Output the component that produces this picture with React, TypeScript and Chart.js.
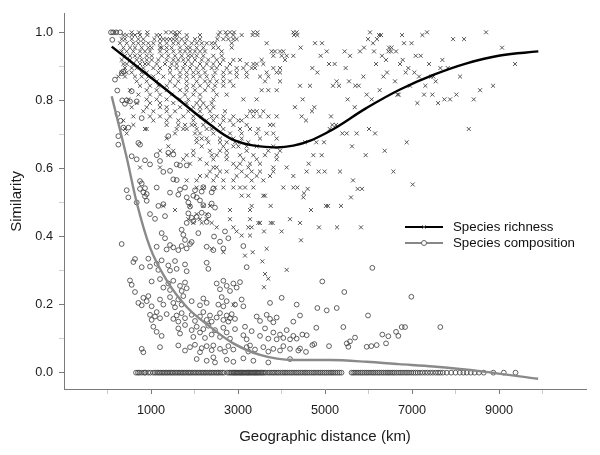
import React, { useEffect, useRef } from 'react';
import { Chart, registerables } from 'chart.js';

Chart.register(...registerables);

// ---------- axis ticks ----------
const xTickValues = [0, 1000, 2000, 3000, 4000, 5000, 6000, 7000, 8000, 9000, 10000];
const xTickLabels = ['1000', '3000', '5000', '7000', '9000'];
const yTickValues = [0, 0.1, 0.2, 0.3, 0.4, 0.5, 0.6, 0.7, 0.8, 0.9, 1.0];
const yTickLabels = ['0.0', '0.2', '0.4', '0.6', '0.8', '1.0'];

const xTitle = 'Geographic distance (km)';
const yTitle = 'Similarity';
const seriesNames = ['Species richness', 'Species composition'];

// ---------- species richness observations: [similarity, distances (km)] ----------
const richnessRows: [number, number[]][] = [
  [1.0, [172, 556, 724, 916, 1345, 1460, 1552, 1651, 2586, 2716, 2816, 2908, 3353, 3445, 4272, 4349, 6035, 7346, 8703]],
  [0.992, [364, 441, 556, 632, 747, 916, 1130, 1207, 1552, 1605, 1820, 2126, 2548, 2740, 2893, 3084, 3337, 3445, 4287, 4364, 6242, 6288, 6771, 7238]],
  [0.98, [326, 402, 556, 709, 824, 1077, 1207, 1284, 1360, 1437, 1513, 1590, 1705, 1820, 2011, 2126, 2525, 2663, 2778, 2893, 2969, 5989, 6196, 7944, 8197]],
  [0.968, [287, 441, 594, 709, 824, 939, 1054, 1207, 1360, 1513, 1628, 1782, 1935, 2050, 2165, 2280, 2395, 2471, 2855, 3659, 4770, 4931, 6104, 6817, 6990]],
  [0.955, [364, 517, 632, 786, 939, 1015, 1207, 1245, 1360, 1475, 1667, 1820, 1897, 2050, 2203, 2433, 2548, 2855, 4440, 5897, 6472, 6530, 9070]],
  [0.944, [326, 441, 594, 747, 862, 977, 1207, 1360, 1513, 1667, 1782, 1897, 2011, 2126, 2241, 2625, 3774, 3851, 3966, 4042, 5040, 5453, 5805, 6127, 6457, 6518, 6633]],
  [0.931, [402, 517, 632, 747, 901, 1015, 1245, 1398, 1552, 1705, 1858, 1935, 2050, 2203, 2433, 2625, 3812, 4004, 4119, 4272, 4900, 5575, 6311, 7085, 7200]],
  [0.919, [326, 517, 671, 786, 901, 1015, 1169, 1360, 1513, 1628, 1743, 1858, 2011, 2165, 2318, 2510, 2663, 2893, 3046, 3544, 4081, 6403, 6786, 7698]],
  [0.907, [364, 441, 594, 747, 862, 939, 1130, 1322, 1475, 1590, 1782, 1935, 2126, 2280, 2433, 2586, 2816, 3199, 3353, 3429, 3582, 5092, 5222, 6173, 6725, 7392, 9369]],
  [0.895, [402, 556, 671, 824, 1054, 1207, 1437, 1590, 1743, 1897, 2050, 2203, 2395, 2510, 2740, 2969, 3123, 3314, 3391, 3812, 3966, 4708, 5475, 6916, 7652, 7822]],
  [0.882, [326, 441, 556, 786, 901, 1169, 1437, 1667, 1820, 1973, 2088, 2241, 2471, 2663, 2816, 2969, 3199, 3659, 3889, 3966, 4824, 6426, 6855, 7054]],
  [0.87, [249, 402, 632, 786, 939, 1054, 1284, 1513, 1667, 1820, 1973, 2126, 2280, 2433, 2663, 2969, 3199, 3506, 3697, 5882, 6342, 7162, 7438, 7491, 8105]],
  [0.856, [671, 901, 1130, 1437, 1628, 1820, 2050, 2241, 2356, 2510, 2663, 2816, 3621, 3966, 5268, 5552, 6610, 7545]],
  [0.843, [747, 977, 1169, 1360, 1552, 1820, 1973, 2126, 2318, 2471, 2663, 2893, 4426, 4655, 5184, 5322, 5697, 5774, 6955, 7307, 8864]],
  [0.83, [517, 901, 1130, 1360, 1667, 1820, 2011, 2241, 2433, 3544, 3697, 3889, 6257, 8565]],
  [0.817, [709, 977, 1207, 1475, 1782, 1973, 2126, 2510, 2740, 5959, 6664, 6695, 7277, 7468, 8020]],
  [0.803, [479, 901, 1130, 1360, 1667, 1858, 2126, 2433, 3123, 3429, 4487, 5521, 6073, 7744, 7875, 8420]],
  [0.792, [671, 977, 1207, 1513, 1820, 2050, 2203, 2395, 7123, 7599]],
  [0.78, [556, 901, 1207, 1360, 1667, 1973, 2126, 2280, 2433, 4310, 4755, 5683]],
  [0.768, [824, 1054, 1360, 1552, 1858, 2126, 2356, 2701, 3276, 3353, 3429, 3582, 4701]],
  [0.753, [594, 977, 1207, 1437, 1743, 1973, 2165, 2395, 2510, 2663, 2893, 3199, 3353, 3506, 3697, 3889, 4464, 5138]],
  [0.741, [364, 1054, 1360, 1628, 1973, 2280, 2433, 2663, 2816, 3008, 3084, 4563]],
  [0.728, [594, 1360, 1628, 1782, 1935, 2011, 2203, 2586, 2893, 3199, 3736, 3812, 5168, 5253]],
  [0.716, [402, 862, 901, 1590, 1743, 1820, 2050, 2280, 2395, 2663, 3046, 3276, 3468, 5109, 6012, 8305]],
  [0.703, [441, 1552, 2011, 2126, 2433, 2816, 3084, 3429, 3659, 3812, 5399, 5498, 5728, 6150]],
  [0.688, [1360, 2050, 2165, 2280, 2586, 2893, 3084, 3506, 3889]],
  [0.677, [2050, 2318, 2586, 2740, 2931, 3046, 3238, 4540, 4801, 4977, 6878]],
  [0.665, [1398, 2165, 2663, 2893, 3008, 3199, 3429, 3812, 5621]],
  [0.652, [1207, 1513, 1973, 2356, 2586, 2740, 3199, 3697, 3966, 6372]],
  [0.639, [1398, 1820, 1973, 2395, 2510, 2740, 3046, 3353, 3621, 3889, 4732, 4924, 5935]],
  [0.627, [1743, 2126, 2433, 2740, 3123, 3429, 3889]],
  [0.614, [1897, 2280, 2893, 3046, 3276, 3506, 4624]],
  [0.603, [747, 1207, 2433, 2510, 2969, 3238, 3812, 4119]],
  [0.591, [2356, 2586, 2740, 3084, 3314, 3506, 3812, 4578, 4854, 4992, 5345, 6572]],
  [0.578, [2126, 2280, 2510, 2969, 3199, 3429, 3736, 4272]],
  [0.565, [1820, 2050, 2433, 2663, 2893, 3314, 3582, 5644]],
  [0.553, [7016]],
  [0.544, [2050, 2203, 2471, 2663, 2893, 3046, 3161, 3353, 4042, 4272, 4364]],
  [0.54, [4601, 5751, 5851]],
  [0.527, [4517]],
  [0.52, [3084, 3238, 3582, 3621]],
  [0.515, [4502, 5598]],
  [0.49, [1284, 1897, 2203, 2356, 3314, 3751, 5023, 5069, 5368]],
  [0.478, [1552, 2816, 3276, 4678]],
  [0.466, [2050, 2280]],
  [0.451, [1858, 2126, 2280, 2816, 3276, 4196]],
  [0.44, [1973, 2165, 2395, 3468, 3506, 3751, 3797, 4426]],
  [0.427, [2510, 2893, 3238, 3314, 4862, 5276, 5828]],
  [0.415, [2969, 3598, 4004]],
  [0.403, [3084, 3276]],
  [0.389, [4449]],
  [0.364, [2395, 3659]],
  [0.354, [2663, 3337]],
  [0.344, [3161]],
  [0.327, [3560]],
  [0.302, [4119]],
  [0.29, [3621]],
  [0.276, [3697]],
  [0.251, [3598]],
  [0.2, [2893]],
];

// ---------- species composition observations [km, similarity] ----------
const compositionPoints: [number, number][] = [
  [80, 1], [130, 1], [200, 1], [290, 1], [110, 0.978], [172, 0.861], [225, 0.829], [326, 0.88], [364, 0.885],
  [556, 0.827], [340, 0.8], [400, 0.79], [441, 0.8], [517, 0.797], [671, 0.797], [230, 0.76], [300, 0.74],
  [364, 0.72], [479, 0.72], [249, 0.695], [249, 0.67], [709, 0.675], [748, 0.67], [786, 0.748], [1398, 0.695],
  [556, 0.636], [671, 0.627], [862, 0.624], [977, 0.612], [1131, 0.639], [1398, 0.646], [1513, 0.641],
  [1207, 0.622], [1283, 0.59], [1437, 0.593], [1591, 0.612], [1667, 0.609], [1821, 0.609], [747, 0.563],
  [786, 0.556], [441, 0.536], [479, 0.515], [862, 0.542], [901, 0.525], [1131, 0.544], [1437, 0.529],
  [1513, 0.568], [1591, 0.566], [1628, 0.523], [1782, 0.544], [1821, 0.515], [2012, 0.536], [2051, 0.515],
  [747, 0.54], [824, 0.53], [1667, 0.538], [2165, 0.532], [2203, 0.545], [2395, 0.53], [2433, 0.541],
  [862, 0.518], [1973, 0.52],
  [671, 0.5], [901, 0.505], [1169, 0.49], [1284, 0.495], [1858, 0.5], [1897, 0.488], [2126, 0.506],
  [2203, 0.492], [2395, 0.497], [2471, 0.485],
  [977, 0.466], [1092, 0.452], [1322, 0.46], [1820, 0.44], [1858, 0.468], [1935, 0.455], [1973, 0.445],
  [2050, 0.458], [2165, 0.47], [2280, 0.443], [2318, 0.462],
  [1245, 0.41], [1322, 0.395], [1705, 0.42], [1743, 0.405], [1782, 0.39], [1935, 0.384], [2088, 0.41],
  [2449, 0.4], [2586, 0.385], [2701, 0.415], [2778, 0.395],
  [326, 0.378], [1130, 0.37], [1360, 0.362], [1437, 0.375], [1513, 0.368], [1628, 0.36], [1705, 0.372],
  [1820, 0.365], [1897, 0.378], [2280, 0.37], [2433, 0.36], [2663, 0.365], [3123, 0.372],
  [594, 0.325], [632, 0.334], [786, 0.31], [939, 0.335], [977, 0.312], [1130, 0.32], [1169, 0.302],
  [1245, 0.33], [1398, 0.315], [1437, 0.3], [1552, 0.328], [1590, 0.305], [1782, 0.318], [1820, 0.298],
  [2280, 0.323], [2318, 0.305], [3199, 0.31],
  [517, 0.271], [556, 0.258], [632, 0.237], [1015, 0.268], [1207, 0.275], [1284, 0.25], [1398, 0.262],
  [1437, 0.243], [1513, 0.27], [1667, 0.255], [1705, 0.24], [1782, 0.265], [1820, 0.248], [2510, 0.262],
  [2586, 0.245], [2663, 0.27], [2740, 0.255], [2816, 0.24], [2893, 0.262], [2969, 0.25], [3046, 0.266],
  [709, 0.205], [786, 0.198], [824, 0.22], [901, 0.21], [939, 0.225], [1015, 0.195], [1207, 0.215],
  [1284, 0.2], [1437, 0.222], [1513, 0.205], [1552, 0.192], [1628, 0.215], [1705, 0.2], [1743, 0.225],
  [1935, 0.21], [2126, 0.198], [2203, 0.218], [2280, 0.205], [2548, 0.2], [2625, 0.222], [2663, 0.195],
  [2740, 0.21], [2931, 0.2], [3084, 0.215], [3123, 0.195], [3736, 0.205], [4004, 0.22], [4349, 0.2],
  [977, 0.17], [1015, 0.155], [1092, 0.165], [1130, 0.178], [1207, 0.16], [1360, 0.172], [1513, 0.158],
  [1590, 0.168], [1628, 0.15], [1705, 0.175], [1782, 0.16], [1935, 0.17], [2011, 0.152], [2126, 0.165],
  [2203, 0.178], [2280, 0.155], [2356, 0.168], [2395, 0.15], [2510, 0.162], [2586, 0.175], [2663, 0.155],
  [2740, 0.168], [2778, 0.15], [2816, 0.16], [2855, 0.172], [2931, 0.158], [3429, 0.165], [3506, 0.152],
  [3659, 0.17], [3736, 0.158], [3812, 0.148], [3889, 0.162], [4272, 0.15], [4425, 0.168],
  [1054, 0.135], [1130, 0.12], [1245, 0.108], [1628, 0.13], [1667, 0.115], [1782, 0.14], [1935, 0.125],
  [1973, 0.105], [2050, 0.135], [2126, 0.118], [2203, 0.128], [2241, 0.102], [2318, 0.138], [2395, 0.112],
  [2471, 0.125], [2586, 0.105], [2663, 0.132], [2740, 0.118], [2816, 0.1], [2931, 0.128], [3123, 0.11],
  [3161, 0.135], [3199, 0.098], [3314, 0.122], [3506, 0.108], [3621, 0.13], [3697, 0.1], [3812, 0.118],
  [3889, 0.098], [3966, 0.112], [4042, 0.102], [4119, 0.125], [4196, 0.098], [4272, 0.108], [4349, 0.1],
  [4579, 0.11],
  [786, 0.07], [824, 0.06], [1207, 0.075], [1628, 0.08], [1782, 0.065], [1897, 0.075], [2011, 0.082],
  [2126, 0.06], [2165, 0.072], [2280, 0.078], [2395, 0.066], [2433, 0.08], [2586, 0.07], [2701, 0.062],
  [2778, 0.078], [2893, 0.068], [3199, 0.075], [3238, 0.062], [3276, 0.08], [3391, 0.068], [3582, 0.075],
  [3697, 0.062], [3812, 0.07], [3966, 0.065], [4042, 0.078], [4196, 0.07], [4387, 0.065],
  [2050, 0.04], [2280, 0.035], [2433, 0.045], [2471, 0.03], [2740, 0.038], [2893, 0.032], [3123, 0.042],
  [3353, 0.035], [3697, 0.03], [4196, 0.04],
  [6088, 0.308], [4938, 0.268], [5444, 0.237], [6985, 0.223], [4824, 0.19], [5040, 0.183], [5270, 0.19],
  [5989, 0.168], [4479, 0.112], [4800, 0.132], [5421, 0.134], [6763, 0.134], [6840, 0.134], [7651, 0.134],
  [6318, 0.112], [6456, 0.107], [6633, 0.12], [6686, 0.108], [5690, 0.103], [5500, 0.086], [5575, 0.092],
  [5536, 0.076], [4709, 0.081], [4755, 0.084], [5092, 0.078], [5958, 0.076], [6065, 0.078], [6188, 0.081],
  [6403, 0.086], [4426, 0.071], [4563, 0.061],
];

// composition pairs with zero similarity (distances in km)
const compositionZeroKm: number[] = [
  655, 700, 735, 790, 845, 870, 935, 985, 1050, 1095, 1140, 1180, 1215, 1255, 1290, 1330, 1365, 1400, 1440,
  1475, 1510, 1550, 1585, 1625, 1660, 1700, 1735, 1770, 1810, 1850, 1885, 1920, 1960, 2000, 2035, 2075,
  2110, 2150, 2185, 2225, 2260, 2300, 2340, 2375, 2410, 2450, 2490, 2525, 2560, 2600, 2640, 2680, 2760,
  2800, 2835, 2865, 2895, 2920, 2950, 2975, 3000, 3030, 3055, 3080, 3110, 3135, 3160, 3190, 3215, 3240,
  3270, 3295, 3320, 3350, 3375, 3400, 3430, 3455, 3480, 3510, 3540, 3570, 3600, 3640, 3690, 3730, 3775,
  3810, 3850, 3895, 3930, 3975, 4020, 4060, 4100, 4140, 4185, 4225, 4265, 4310, 4350, 4390, 4435, 4475,
  4520, 4560, 4600, 4645, 4690, 4730, 4770, 4815, 4860, 4900, 4945, 4990, 5030, 5075, 5120, 5160, 5200,
  5245, 5290, 5335, 5380, 5610, 5650, 5690, 5735, 5775, 5820, 5860, 5905, 5950, 5990, 6035, 6080, 6120,
  6165, 6210, 6250, 6295, 6340, 6385, 6430, 6470, 6515, 6560, 6600, 6650, 6700, 6745, 6790, 6840, 6885,
  6930, 6980, 7030, 7080, 7130, 7185, 7240, 7300, 7360, 7420, 7480, 7545, 7600, 7650, 7710, 7800, 7900,
  8000, 8100, 8180, 8260, 8350, 8440, 8540, 8650, 8870, 9110, 9380,
];

// ---------- fitted smooth curves ----------
const richnessCurveKm = [97, 823, 1590, 2356, 2892, 3506, 4272, 5039, 5959, 6724, 7490, 8257, 9023, 9904];
const richnessCurveSim = [0.958, 0.885, 0.807, 0.729, 0.684, 0.665, 0.667, 0.705, 0.778, 0.832, 0.875, 0.909, 0.932, 0.944];
const compositionCurveKm = [97, 441, 671, 977, 1361, 1821, 2356, 2892, 3506, 4272, 5115, 5958, 6700, 7490, 8640, 9900];
const compositionCurveSim = [0.812, 0.632, 0.5, 0.368, 0.271, 0.193, 0.135, 0.086, 0.052, 0.037, 0.037, 0.032, 0.025, 0.018, 0.003, -0.018];

const FONT = '"Liberation Sans", Arial, Helvetica, sans-serif';

const legendPlugin = {
  id: 'insetLegend',
  afterDraw(chart: any) {
    const ctx = chart.ctx as CanvasRenderingContext2D;
    ctx.save();
    const x0 = 405;
    const x1 = 443;
    const xm = (x0 + x1) / 2;
    const tx = 453;
    const rowsY = [227, 243];
    // richness row
    ctx.strokeStyle = '#000';
    ctx.lineWidth = 2.2;
    ctx.beginPath();
    ctx.moveTo(x0, rowsY[0]);
    ctx.lineTo(x1, rowsY[0]);
    ctx.stroke();
    ctx.lineWidth = 0.8;
    ctx.strokeStyle = '#666';
    ctx.beginPath();
    ctx.moveTo(xm - 2, rowsY[0] - 2);
    ctx.lineTo(xm + 2, rowsY[0] + 2);
    ctx.moveTo(xm - 2, rowsY[0] + 2);
    ctx.lineTo(xm + 2, rowsY[0] - 2);
    ctx.stroke();
    // composition row
    ctx.strokeStyle = '#888';
    ctx.lineWidth = 2.2;
    ctx.beginPath();
    ctx.moveTo(x0, rowsY[1]);
    ctx.lineTo(x1, rowsY[1]);
    ctx.stroke();
    ctx.fillStyle = '#fff';
    ctx.strokeStyle = '#555';
    ctx.lineWidth = 0.9;
    ctx.beginPath();
    ctx.arc(xm, rowsY[1], 2.5, 0, Math.PI * 2);
    ctx.fill();
    ctx.stroke();
    // text
    ctx.fillStyle = '#111';
    ctx.font = `13.3px ${FONT}`;
    ctx.textAlign = 'left';
    ctx.textBaseline = 'middle';
    ctx.fillText(seriesNames[0], tx, rowsY[0]);
    ctx.fillText(seriesNames[1], tx, rowsY[1]);
    ctx.restore();
  },
};

export default function App() {
  const canvasRef = useRef<HTMLCanvasElement | null>(null);

  useEffect(() => {
    if (!canvasRef.current) return;
    const richnessData = richnessRows.flatMap(([sim, kms]) => kms.map((km) => ({ x: km, y: sim })));
    const compositionData = [
      ...compositionPoints.map(([km, sim]) => ({ x: km, y: sim })),
      ...compositionZeroKm.map((km) => ({ x: km, y: 0 })),
    ];
    const richCurve = richnessCurveKm.map((km, i) => ({ x: km, y: richnessCurveSim[i] }));
    const compCurve = compositionCurveKm.map((km, i) => ({ x: km, y: compositionCurveSim[i] }));

    const isMajorX = (v: number) => xTickLabels.includes(String(Math.round(v)));
    const yLabelFor = (v: number) => {
      const s = (Math.round(v * 10) / 10).toFixed(1);
      return yTickLabels.includes(s) ? s : '';
    };

    const chart = new Chart(canvasRef.current, {
      type: 'scatter',
      data: {
        datasets: [
          {
            label: seriesNames[0] + ' fit',
            data: richCurve,
            showLine: true,
            borderColor: '#000',
            borderWidth: 2.4,
            pointRadius: 0,
            tension: 0.4,
            fill: false,
          } as any,
          {
            label: seriesNames[1] + ' fit',
            data: compCurve,
            showLine: true,
            borderColor: '#8a8a8a',
            borderWidth: 2.4,
            pointRadius: 0,
            cubicInterpolationMode: 'monotone',
            fill: false,
          } as any,
          {
            label: seriesNames[0],
            data: richnessData,
            pointStyle: 'crossRot',
            pointRadius: 2.8,
            pointBorderWidth: 0.9,
            borderColor: '#444',
            backgroundColor: '#444',
          } as any,
          {
            label: seriesNames[1],
            data: compositionData,
            pointStyle: 'circle',
            pointRadius: 2.4,
            pointBorderWidth: 0.8,
            borderColor: '#3a3a3a',
            backgroundColor: 'rgba(0,0,0,0)',
          } as any,
        ],
      },
      options: {
        animation: false,
        responsive: true,
        maintainAspectRatio: false,
        devicePixelRatio: 1,
        layout: { padding: { top: 12, right: 14, bottom: 0, left: 0 } },
        plugins: {
          legend: { display: false },
          tooltip: { enabled: false },
        },
        scales: {
          x: {
            type: 'linear',
            min: -1000,
            max: 11000,
            afterFit: (scale: any) => {
              scale.height = 66;
            },
            afterBuildTicks: (scale: any) => {
              scale.ticks = xTickValues.map((v) => ({ value: v }));
            },
            border: { display: true, color: '#7a7a7a', width: 1 },
            grid: {
              display: true,
              drawOnChartArea: false,
              drawTicks: true,
              tickLength: 5,
              lineWidth: 1,
              color: (ctx: any) => (ctx.tick && isMajorX(ctx.tick.value) ? '#7a7a7a' : '#c8c8c8'),
            },
            ticks: {
              autoSkip: false,
              maxRotation: 0,
              padding: 9,
              color: '#1a1a1a',
              font: { family: FONT, size: 12.7 },
              callback: (v: any) => (isMajorX(Number(v)) ? String(Math.round(Number(v))) : ''),
            },
            title: {
              display: true,
              text: xTitle,
              color: '#1a1a1a',
              font: { family: FONT, size: 15 },
              padding: { top: 0, bottom: 9 },
            },
          },
          y: {
            type: 'linear',
            min: -0.048,
            max: 1.055,
            afterFit: (scale: any) => {
              scale.width = 64;
            },
            afterBuildTicks: (scale: any) => {
              scale.ticks = yTickValues.map((v) => ({ value: v }));
            },
            border: { display: true, color: '#7a7a7a', width: 1 },
            grid: {
              display: true,
              drawOnChartArea: false,
              drawTicks: true,
              tickLength: 5,
              lineWidth: 1,
              color: (ctx: any) => (ctx.tick && yLabelFor(ctx.tick.value) ? '#7a7a7a' : '#d0d0d0'),
            },
            ticks: {
              autoSkip: false,
              padding: 6,
              color: '#1a1a1a',
              font: { family: FONT, size: 12.7 },
              callback: (v: any) => yLabelFor(Number(v)),
            },
            title: {
              display: true,
              text: yTitle,
              color: '#1a1a1a',
              font: { family: FONT, size: 15 },
              padding: { top: 8, bottom: 0 },
            },
          },
        },
      },
      plugins: [legendPlugin],
    });

    return () => {
      chart.destroy();
    };
  }, []);

  return (
    <div style={{ position: 'absolute', left: 0, top: 0, width: 600, height: 455, background: '#fff' }}>
      <canvas ref={canvasRef} />
    </div>
  );
}
